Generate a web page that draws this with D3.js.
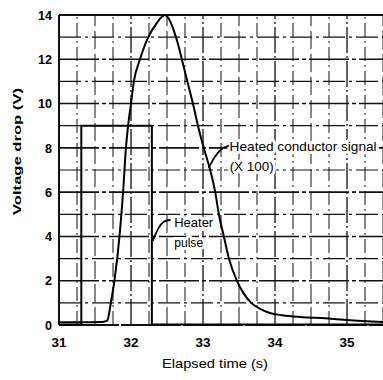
<!DOCTYPE html>
<html>
<head>
<meta charset="utf-8">
<script src="https://cdn.jsdelivr.net/npm/d3@7"></script>
<style>
  html, body { margin: 0; padding: 0; background: #fff; }
  svg { display: block; }
  .halo { paint-order: stroke; stroke: #fff; stroke-width: 6px; stroke-linejoin: round; }
</style>
</head>
<body>
<div id="chart"></div>
<script>
// heated conductor signal (x100)
const signalTime = [31.0, 31.3, 31.6, 31.67, 31.72, 31.77, 31.84, 31.89, 31.93, 31.96, 32.0, 32.04,
  32.125, 32.24, 32.35, 32.43, 32.47, 32.51, 32.56, 32.61, 32.66, 32.71, 32.76, 32.81, 32.86, 32.93,
  33.01, 33.1, 33.17, 33.22, 33.29, 33.36, 33.47, 33.56, 33.67, 33.8, 33.93, 34.1, 34.35, 34.7, 35.0, 35.5];
const signalVolts = [0.12, 0.12, 0.14, 0.2, 1.0, 2.0, 4.0, 6.0, 8.0, 9.0, 10.0, 11.0,
  12.0, 13.0, 13.6, 13.92, 14.0, 13.9, 13.6, 13.15, 12.6, 11.95, 11.3, 10.65, 10.0, 9.0,
  8.0, 7.0, 6.0, 5.0, 4.0, 3.0, 2.0, 1.45, 1.0, 0.72, 0.54, 0.44, 0.36, 0.3, 0.23, 0.14];

// heater pulse
const pulseTime = [31.0, 31.31, 31.31, 32.29, 32.29, 35.5];
const pulseVolts = [0.02, 0.02, 9.0, 9.0, 0.02, 0.02];

const xTicks = [31, 32, 33, 34, 35];
const yTicks = [0, 2, 4, 6, 8, 10, 12, 14];

const width = 383, height = 380;
const margin = { top: 15, right: 0, bottom: 55, left: 59 };

const x = d3.scaleLinear().domain([31, 35.5]).range([margin.left, width - margin.right]);
const y = d3.scaleLinear().domain([0, 14]).range([height - margin.bottom, margin.top]);

const svg = d3.select("#chart").append("svg")
  .attr("width", width)
  .attr("height", height)
  .attr("viewBox", [0, 0, width, height]);

const sans = "'Liberation Sans', Arial, sans-serif";

// grid, every 0.25 s and every 1 V
const vGrid = d3.range(31, 35.51, 0.25);
const hGrid = d3.range(0, 14.01, 1);

svg.append("g")
  .selectAll("line")
  .data(vGrid)
  .join("line")
  .attr("x1", d => x(d)).attr("x2", d => x(d))
  .attr("y1", y(0)).attr("y2", y(14))
  .attr("stroke", "#111")
  .attr("stroke-width", (d, i) => (i === 0 ? 2 : Number.isInteger(d) ? 1.3 : 1))
  .attr("stroke-dasharray", (d, i) => (i === 0 ? null : Number.isInteger(d) ? "26,3,2,3" : (i % 2 ? "14,4,2,4" : "18,5")));

svg.append("g")
  .selectAll("line")
  .data(hGrid)
  .join("line")
  .attr("x1", x(31)).attr("x2", x(35.5))
  .attr("y1", d => y(d)).attr("y2", d => y(d))
  .attr("stroke", "#111")
  .attr("stroke-width", (d) => (d === 0 || d === 14 ? 2 : d % 2 === 0 ? 1.6 : 1.2))
  .attr("stroke-dasharray", (d) => (d === 14 ? null : d === 0 ? "60,2" : d % 2 === 0 ? "40,3,4,3" : "22,4,3,4"));

// heater pulse
const line = d3.line().x(d => x(d[0])).y(d => y(d[1]));

svg.append("path")
  .datum(d3.zip(pulseTime, pulseVolts))
  .attr("fill", "none")
  .attr("stroke", "#000")
  .attr("stroke-width", 2)
  .attr("d", line);

// signal trace
svg.append("path")
  .datum(d3.zip(signalTime, signalVolts))
  .attr("fill", "none")
  .attr("stroke", "#000")
  .attr("stroke-width", 2)
  .attr("stroke-linejoin", "round")
  .attr("d", line.curve(d3.curveMonotoneX));

// tick labels
svg.append("g")
  .selectAll("text")
  .data(yTicks)
  .join("text")
  .attr("x", margin.left - 7)
  .attr("y", d => y(d))
  .attr("dy", "0.36em")
  .attr("text-anchor", "end")
  .attr("textLength", d => String(d).length * 7)
  .attr("lengthAdjust", "spacingAndGlyphs")
  .style("font", `bold 13px ${sans}`)
  .text(d => d);

svg.append("g")
  .selectAll("text")
  .data(xTicks)
  .join("text")
  .attr("x", d => x(d))
  .attr("y", y(0) + 17)
  .attr("dy", "0.36em")
  .attr("text-anchor", "middle")
  .attr("textLength", 15)
  .attr("lengthAdjust", "spacingAndGlyphs")
  .style("font", `bold 13px ${sans}`)
  .text(d => d);

// axis titles
svg.append("text")
  .attr("transform", `translate(17,${(88 + 215) / 2}) rotate(-90)`)
  .attr("text-anchor", "middle")
  .attr("dy", "0.35em")
  .attr("textLength", 127)
  .attr("lengthAdjust", "spacingAndGlyphs")
  .style("font", `bold 11.5px ${sans}`)
  .text("Voltage drop (V)");

svg.append("text")
  .attr("x", 215)
  .attr("y", 364)
  .attr("dy", "0.35em")
  .attr("text-anchor", "middle")
  .attr("textLength", 106)
  .attr("lengthAdjust", "spacingAndGlyphs")
  .style("font", `12.5px ${sans}`)
  .text("Elapsed time (s)");

// annotations (positions in data units)
const annot = svg.append("g").style("font", `13.5px ${sans}`);

const leader = d3.line().curve(d3.curveBasis).x(d => x(d[0])).y(d => y(d[1]));

annot.append("text")
  .attr("class", "halo")
  .attr("x", x(33.37)).attr("y", y(8.05))
  .attr("dy", "0.35em")
  .attr("textLength", 147)
  .attr("lengthAdjust", "spacingAndGlyphs")
  .text("Heated conductor signal");

annot.append("text")
  .attr("class", "halo")
  .attr("x", x(33.37)).attr("y", y(7.15))
  .attr("dy", "0.35em")
  .attr("textLength", 44)
  .attr("lengthAdjust", "spacingAndGlyphs")
  .text("(X 100)");

annot.append("path")
  .datum([[33.08, 7.1], [33.16, 7.6], [33.26, 8.0], [33.36, 8.1]])
  .attr("fill", "none").attr("stroke", "#000").attr("stroke-width", 1.8)
  .attr("d", leader);

annot.append("text")
  .attr("class", "halo")
  .attr("x", x(32.6)).attr("y", y(4.65))
  .attr("dy", "0.35em")
  .attr("textLength", 39)
  .attr("lengthAdjust", "spacingAndGlyphs")
  .text("Heater");

annot.append("text")
  .attr("class", "halo")
  .attr("x", x(32.6)).attr("y", y(3.75))
  .attr("dy", "0.35em")
  .attr("textLength", 29)
  .attr("lengthAdjust", "spacingAndGlyphs")
  .text("pulse");

annot.append("path")
  .datum([[32.3, 3.8], [32.38, 4.4], [32.45, 4.7], [32.55, 4.75]])
  .attr("fill", "none").attr("stroke", "#000").attr("stroke-width", 1.8)
  .attr("d", leader);
</script>
</body>
</html>
